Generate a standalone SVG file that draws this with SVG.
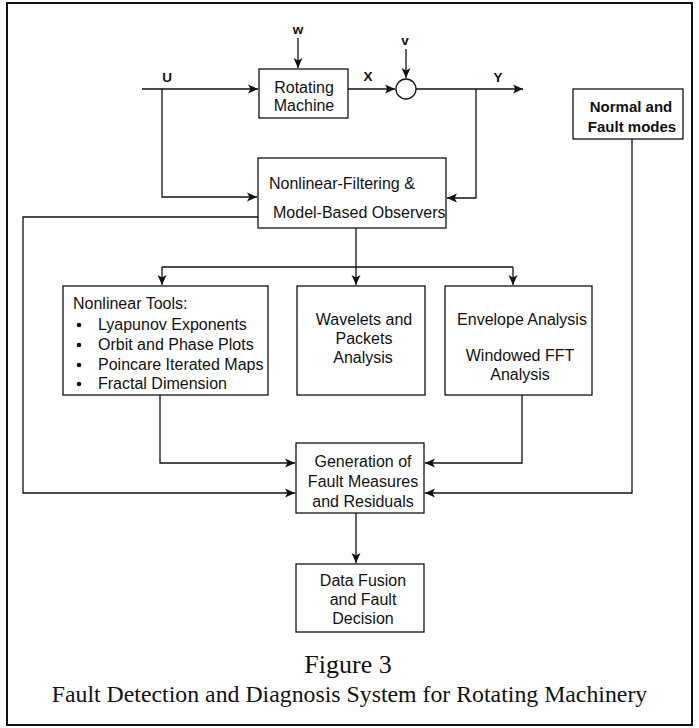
<svg xmlns="http://www.w3.org/2000/svg" width="699" height="728" viewBox="0 0 699 728">
<style>
.box{fill:#fff;stroke:#111;stroke-width:1.3}
.ln{fill:none;stroke:#111;stroke-width:1.3}
.t{font-family:"Liberation Sans",Arial,sans-serif;font-size:16px;fill:#111}
.c{text-anchor:middle}
.lab{font-family:"Liberation Sans",Arial,sans-serif;font-size:13.5px;font-weight:bold;fill:#111;text-anchor:middle}
.cap{font-family:"Liberation Serif","Times New Roman",serif;fill:#111;text-anchor:middle}
</style>
<defs>
<marker id="ar" viewBox="0 0 10 10" refX="10" refY="5" markerWidth="10" markerHeight="10" markerUnits="userSpaceOnUse" orient="auto">
<path d="M0,0.5 L10,5 L0,9.5 L2.5,5 z" fill="#111"/>
</marker>
</defs>
<rect x="7" y="3" width="685" height="722" fill="#fff" stroke="#111" stroke-width="2"/>

<g id="connectors">
<path class="ln" d="M142,89 H258" marker-end="url(#ar)"/>
<path class="ln" d="M298,38 V68" marker-end="url(#ar)"/>
<path class="ln" d="M348,89 H395" marker-end="url(#ar)"/>
<path class="ln" d="M406,49 V78" marker-end="url(#ar)"/>
<path class="ln" d="M416,89 H523" marker-end="url(#ar)"/>
<path class="ln" d="M162,89 V197 H257" marker-end="url(#ar)"/>
<path class="ln" d="M476,89 V198 H447" marker-end="url(#ar)"/>
<path class="ln" d="M258,217 H23 V493 H295" marker-end="url(#ar)"/>
<path class="ln" d="M356,228 V285" marker-end="url(#ar)"/>
<path class="ln" d="M162,267 H513"/>
<path class="ln" d="M162,267 V285" marker-end="url(#ar)"/>
<path class="ln" d="M513,267 V285" marker-end="url(#ar)"/>
<path class="ln" d="M160,395 V463 H295" marker-end="url(#ar)"/>
<path class="ln" d="M522,395 V463 H425" marker-end="url(#ar)"/>
<path class="ln" d="M632,139 V493 H425" marker-end="url(#ar)"/>
<path class="ln" d="M356,513 V563" marker-end="url(#ar)"/>
</g>

<g id="labels">
<text class="lab" x="298" y="34">w</text>
<text class="lab" x="167" y="82">U</text>
<text class="lab" x="368" y="81">X</text>
<text class="lab" x="405" y="45">v</text>
<text class="lab" x="498" y="82">Y</text>
</g>

<g id="rotating-machine">
<rect class="box" x="259" y="69" width="89" height="49"/>
<text class="t c" x="304" y="93">Rotating</text>
<text class="t c" x="304" y="111">Machine</text>
</g>

<g id="sum">
<circle class="box" cx="406" cy="89" r="10"/>
</g>

<g id="normal-fault-modes">
<rect class="box" x="573" y="89" width="110" height="50"/>
<text class="t c" x="631" y="112" style="font-weight:bold;font-size:15px">Normal and</text>
<text class="t c" x="632" y="132" style="font-weight:bold;font-size:15px">Fault modes</text>
</g>

<g id="nonlinear-filtering">
<rect class="box" x="258" y="158" width="188" height="70"/>
<text class="t" x="269" y="189">Nonlinear-Filtering &amp;</text>
<text class="t" x="273" y="218">Model-Based Observers</text>
</g>

<g id="nonlinear-tools">
<rect class="box" x="63" y="286" width="205" height="109"/>
<text class="t" x="73" y="309">Nonlinear Tools:</text>
<circle cx="79" cy="325" r="2.3" fill="#111"/>
<circle cx="79" cy="345" r="2.3" fill="#111"/>
<circle cx="79" cy="365" r="2.3" fill="#111"/>
<circle cx="79" cy="384" r="2.3" fill="#111"/>
<text class="t" x="98" y="330">Lyapunov Exponents</text>
<text class="t" x="98" y="350">Orbit and Phase Plots</text>
<text class="t" x="98" y="370">Poincare Iterated Maps</text>
<text class="t" x="98" y="389">Fractal Dimension</text>
</g>

<g id="wavelets">
<rect class="box" x="297" y="286" width="128" height="109"/>
<text class="t c" x="364" y="325">Wavelets and</text>
<text class="t c" x="364" y="344">Packets</text>
<text class="t c" x="363" y="363">Analysis</text>
</g>

<g id="envelope">
<rect class="box" x="445" y="286" width="147" height="109"/>
<text class="t c" x="522" y="325">Envelope Analysis</text>
<text class="t c" x="520" y="361">Windowed FFT</text>
<text class="t c" x="520" y="380">Analysis</text>
</g>

<g id="generation">
<rect class="box" x="296" y="443" width="128" height="70"/>
<text class="t c" x="363" y="467">Generation of</text>
<text class="t c" x="363" y="487">Fault Measures</text>
<text class="t c" x="363" y="507">and Residuals</text>
</g>

<g id="data-fusion">
<rect class="box" x="296" y="564" width="128" height="68"/>
<text class="t c" x="363" y="586">Data Fusion</text>
<text class="t c" x="363" y="605">and Fault</text>
<text class="t c" x="363" y="624">Decision</text>
</g>

<g id="caption">
<text class="cap" x="348" y="673" style="font-size:26px">Figure 3</text>
<text class="cap" x="349.5" y="702" style="font-size:23.8px">Fault Detection and Diagnosis System for Rotating Machinery</text>
</g>
</svg>
